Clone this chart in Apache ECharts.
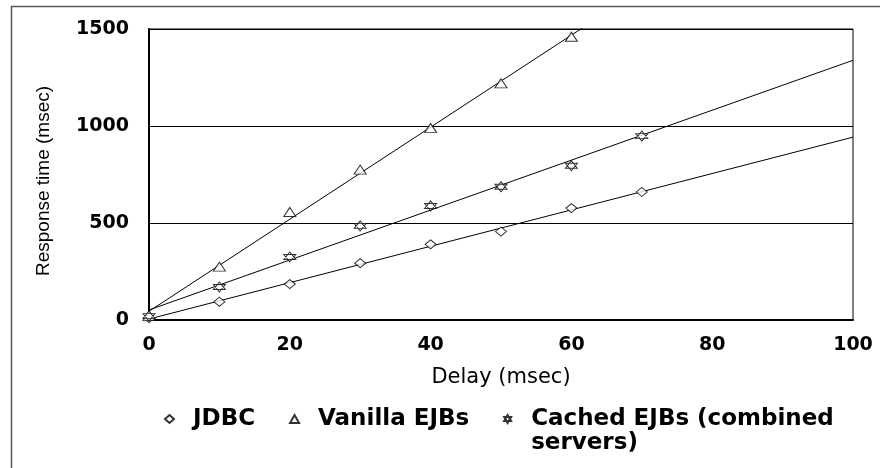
<!DOCTYPE html>
<html>
<head>
<meta charset="utf-8">
<script src="https://cdn.jsdelivr.net/npm/echarts@6/dist/echarts.min.js"></script>
<style>
html,body{margin:0;padding:0;background:#fff;}
#chart{width:880px;height:468px;}
</style>
</head>
<body>
<div id="chart"></div>
<script>
// ---- data ----
var delays = [0, 10, 20, 30, 40, 50, 60, 70];
var vanillaDelays = [0, 10, 20, 30, 40, 50, 60];
var jdbc = [10, 94, 185, 293, 390, 456, 577, 660];
var vanilla = [20, 275, 557, 775, 990, 1220, 1460];
var cached = [20, 170, 325, 485, 588, 687, 795, 948];
var seriesNames = ['JDBC', 'Vanilla EJBs', 'Cached EJBs (combined\nservers)'];
var xTicks = [0, 20, 40, 60, 80, 100];
var yTicks = [0, 500, 1000, 1500];

function pairs(xs, ys) { return xs.map(function (x, i) { return [x, ys[i]]; }); }
// least-squares trend line (as drawn by the original spreadsheet)
function trend(xs, ys, x0, x1) {
  var n = xs.length, sx = 0, sy = 0, sxx = 0, sxy = 0;
  for (var i = 0; i < n; i++) { sx += xs[i]; sy += ys[i]; sxx += xs[i] * xs[i]; sxy += xs[i] * ys[i]; }
  var b = (n * sxy - sx * sy) / (n * sxx - sx * sx);
  var a = (sy - b * sx) / n;
  return [[x0, a + b * x0], [x1, a + b * x1]];
}

var starPath = 'path://M10,0L18.66,15L1.34,15ZM10,20L1.34,5L18.66,5Z';
var markStyle = { color: '#fff', borderColor: '#000', borderWidth: 1 };
var boldFont = 'DejaVu Sans';

var chart = echarts.init(document.getElementById('chart'));
var xMin = xTicks[0], xMax = xTicks[xTicks.length - 1];
var option = {
  backgroundColor: '#fff',
  animation: false,
  graphic: [{
    type: 'rect', silent: true, z: -10,
    shape: { x: 11.5, y: 6.5, width: 1000, height: 1000 },
    style: { fill: 'none', stroke: '#555', lineWidth: 1.5 }
  }],
  grid: { left: 149, top: 29, right: 27, bottom: 148, show: true, borderColor: '#000', borderWidth: 1, backgroundColor: '#fff' },
  xAxis: {
    type: 'value', min: xMin, max: xMax, interval: xTicks[1] - xTicks[0],
    axisLine: { show: true, onZero: false, lineStyle: { color: '#000', width: 2 } },
    axisTick: { show: false },
    splitLine: { show: false },
    axisLabel: { margin: 16, color: '#000', fontFamily: boldFont, fontWeight: 'bold', fontSize: 19, formatter: function (v) { return String(v); } },
    name: 'Delay (msec)', nameLocation: 'middle', nameGap: 47,
    nameTextStyle: { color: '#000', fontFamily: 'DejaVu Sans', fontSize: 21 }
  },
  yAxis: {
    type: 'value', min: yTicks[0], max: yTicks[yTicks.length - 1], interval: yTicks[1] - yTicks[0],
    axisLine: { show: true, onZero: false, lineStyle: { color: '#000', width: 2 } },
    axisTick: { show: false },
    splitLine: { show: true, lineStyle: { color: '#000', width: 1 } },
    axisLabel: { margin: 20, color: '#000', fontFamily: boldFont, fontWeight: 'bold', fontSize: 19, formatter: function (v) { return String(v); } },
    name: 'Response time (msec)', nameLocation: 'middle', nameGap: 96,
    nameTextStyle: { color: '#000', fontFamily: 'Liberation Sans', fontSize: 19, padding: [0, 13, 0, 0] }
  },
  legend: {
    left: 164, top: 383, padding: 0, itemGap: 34, itemWidth: 9, itemHeight: 8,
    textStyle: { color: '#000', fontFamily: boldFont, fontWeight: 'bold', fontSize: 23, lineHeight: 24, padding: [0, 0, 0, 14] },
    formatter: function (name) { return name.indexOf('\n') >= 0 ? ' \n' + name : name; },
    data: [
      { name: seriesNames[0], icon: 'diamond' },
      { name: seriesNames[1], icon: 'triangle' },
      { name: seriesNames[2], icon: starPath }
    ]
  },
  series: [
    { name: seriesNames[0], type: 'scatter', symbol: 'diamond', symbolSize: [11, 9], itemStyle: markStyle, data: pairs(delays, jdbc), z: 5 },
    { name: seriesNames[1], type: 'scatter', symbol: 'triangle', symbolSize: [12, 9], itemStyle: markStyle, data: pairs(vanillaDelays, vanilla), z: 5 },
    { name: seriesNames[2], type: 'scatter', symbol: starPath, symbolSize: [12, 10], itemStyle: markStyle, data: pairs(delays, cached), z: 5 },
    { name: 'JDBC trend', type: 'line', symbol: 'none', silent: true, clip: true, lineStyle: { color: '#000', width: 1 }, data: trend(delays, jdbc, xMin, xMax), z: 3 },
    { name: 'Vanilla trend', type: 'line', symbol: 'none', silent: true, clip: true, lineStyle: { color: '#000', width: 1 }, data: trend(vanillaDelays, vanilla, xMin, xMax), z: 3 },
    { name: 'Cached trend', type: 'line', symbol: 'none', silent: true, clip: true, lineStyle: { color: '#000', width: 1 }, data: trend(delays, cached, xMin, xMax), z: 3 }
  ]
};
chart.setOption(option);
</script>
</body>
</html>
